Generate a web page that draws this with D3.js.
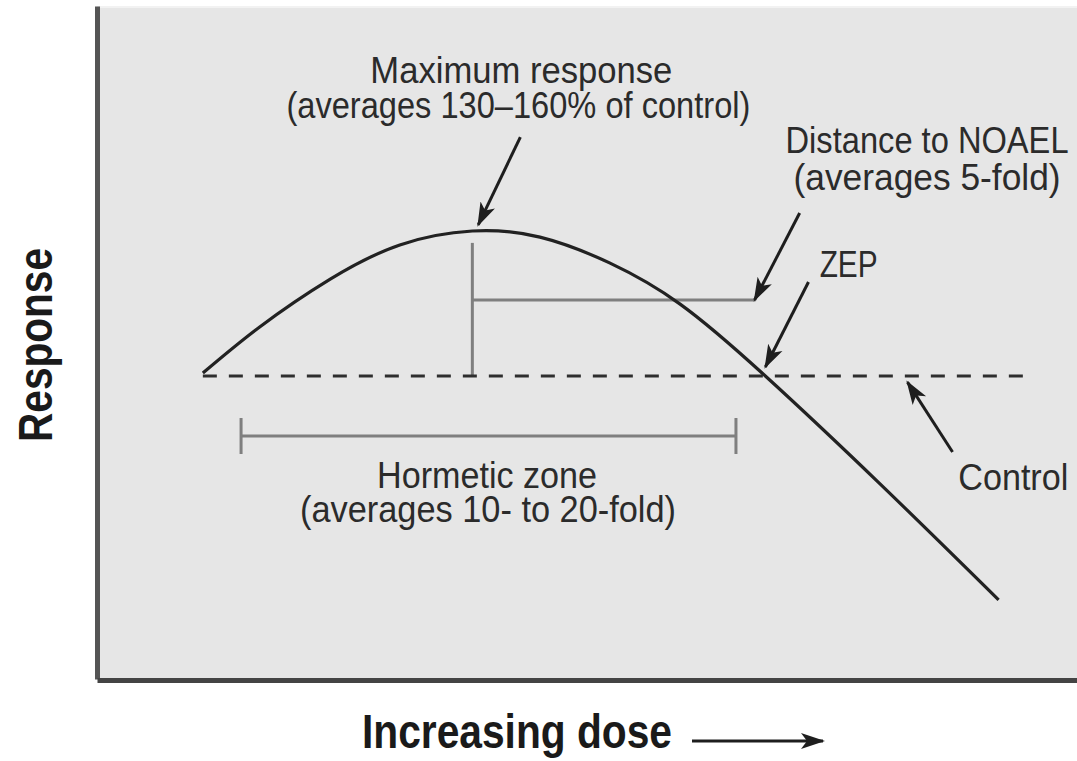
<!DOCTYPE html>
<html>
<head>
<meta charset="utf-8">
<script src="https://cdn.jsdelivr.net/npm/d3@7"></script>
<style>
  html, body { margin: 0; padding: 0; background: #fff; }
  svg { display: block; }
  text { font-family: "Liberation Sans Narrow", "Arial Narrow", "Liberation Sans", sans-serif; fill: #2b2b2b; }
</style>
</head>
<body>
<svg id="chart" width="1077" height="761"></svg>
<script>
// dose in arbitrary units, response in % of control
const doseDomain = [0, 100];
const responseDomain = [-4.5, 227.6];

const curveDose = [10.8, 16.6, 23.8, 30.9, 38.3, 45.2, 52.3, 59.5, 68.2, 79.9, 92.0];
const curveResponse = [101.0, 116.9, 133.4, 145.2, 150.0, 147.9, 139.0, 124.8, 100.0, 62.8, 22.8];

const controlResponse = 100;
const controlDoseSpan = [10.8, 95.2];
const peakDose = 38.3;
const peakMarkTop = 145.9;
const noaelDose = 67.2;
const noaelLevel = 126.2;
const hormeticSpan = [14.7, 65.2];
const hormeticLevel = 79.3;

const labelText = [
  "Maximum response",
  "(averages 130\u2013160% of control)",
  "Distance to NOAEL",
  "(averages 5-fold)",
  "ZEP",
  "Control",
  "Hormetic zone",
  "(averages 10- to 20-fold)"
];
const labelDose = [43.3, 43.0, 84.7, 84.7, 76.7, 93.5, 39.8, 39.9];
const labelResponse = [201.0, 189.0, 176.9, 164.1, 134.1, 60.7, 61.4, 49.7];

// arrows: [dose, response] of tail and of tip
const arrowFrom = [[43.2, 182.4], [71.7, 156.2], [72.6, 132.4], [87.3, 73.8]];
const arrowTo = [[38.9, 152.1], [67.1, 126.2], [68.2, 103.1], [82.7, 97.9]];

const xTitle = "Increasing dose";
const yTitle = "Response";

// layout
const plot = { left: 97, right: 1077, top: 6, bottom: 679 };
const labelWidths = [302, 464, 283, 267, 58, 110, 220, 376];

const svg = d3.select('#chart');

const x = d3.scaleLinear().domain(doseDomain).range([plot.left, plot.right]);
const y = d3.scaleLinear().domain(responseDomain).range([plot.bottom, plot.top]);

// arrowhead marker
svg.append('defs').append('marker')
  .attr('id', 'head')
  .attr('markerUnits', 'userSpaceOnUse')
  .attr('viewBox', '0 -9 24 18')
  .attr('refX', 22).attr('refY', 0)
  .attr('markerWidth', 24).attr('markerHeight', 18)
  .attr('orient', 'auto')
  .append('path')
  .attr('d', 'M0,-8 L24,0 L0,8 L6,0 Z')
  .attr('fill', '#1e1e1e');

// plot background
svg.append('rect')
  .attr('x', plot.left).attr('y', plot.top)
  .attr('width', plot.right - plot.left).attr('height', plot.bottom - plot.top)
  .attr('fill', '#e6e6e6');
svg.append('line')
  .attr('x1', plot.left).attr('x2', plot.right)
  .attr('y1', plot.top + 1).attr('y2', plot.top + 1)
  .attr('stroke', '#f2f2f2').attr('stroke-width', 2);

// hormetic zone bar
const hz = svg.append('g').attr('stroke', '#7f7f7f').attr('stroke-width', 3);
hz.append('line')
  .attr('x1', x(hormeticSpan[0])).attr('x2', x(hormeticSpan[1]))
  .attr('y1', y(hormeticLevel)).attr('y2', y(hormeticLevel));
hormeticSpan.forEach(d => {
  hz.append('line')
    .attr('x1', x(d)).attr('x2', x(d))
    .attr('y1', y(hormeticLevel) - 18).attr('y2', y(hormeticLevel) + 18);
});

// peak marker + distance to NOAEL
svg.append('line')
  .attr('x1', x(peakDose)).attr('x2', x(peakDose))
  .attr('y1', y(controlResponse)).attr('y2', y(peakMarkTop))
  .attr('stroke', '#7f7f7f').attr('stroke-width', 3);
svg.append('line')
  .attr('x1', x(peakDose)).attr('x2', x(noaelDose))
  .attr('y1', y(noaelLevel)).attr('y2', y(noaelLevel))
  .attr('stroke', '#7f7f7f').attr('stroke-width', 3);

// control line
svg.append('line')
  .attr('x1', x(controlDoseSpan[0])).attr('x2', x(controlDoseSpan[1]))
  .attr('y1', y(controlResponse)).attr('y2', y(controlResponse))
  .attr('stroke', '#2e2e2e').attr('stroke-width', 3)
  .attr('stroke-dasharray', '14,12');

// dose-response curve
const pts = curveDose.map((d, i) => [d, curveResponse[i]]);
svg.append('path')
  .datum(pts)
  .attr('fill', 'none')
  .attr('stroke', '#222')
  .attr('stroke-width', 3.2)
  .attr('d', d3.line().x(d => x(d[0])).y(d => y(d[1])).curve(d3.curveNatural));

// annotation arrows
svg.append('g').selectAll('line')
  .data(arrowFrom)
  .enter().append('line')
  .attr('x1', d => x(d[0])).attr('y1', d => y(d[1]))
  .attr('x2', (d, i) => x(arrowTo[i][0])).attr('y2', (d, i) => y(arrowTo[i][1]))
  .attr('stroke', '#1e1e1e').attr('stroke-width', 3)
  .attr('marker-end', 'url(#head)');

// annotation labels
svg.append('g').selectAll('text')
  .data(labelText)
  .enter().append('text')
  .attr('x', (d, i) => x(labelDose[i]))
  .attr('y', (d, i) => y(labelResponse[i]))
  .attr('text-anchor', 'middle')
  .attr('font-size', 36)
  .attr('textLength', (d, i) => labelWidths[i])
  .attr('lengthAdjust', 'spacingAndGlyphs')
  .text(d => d);

// axes (no ticks, just the lines)
svg.append('g')
  .attr('transform', 'translate(' + plot.left + ',0)')
  .call(d3.axisLeft(y).ticks(0).tickSizeOuter(0))
  .call(g => g.select('.domain').attr('stroke', '#555').attr('stroke-width', 5));
svg.append('g')
  .attr('transform', 'translate(0,' + (plot.bottom + 1) + ')')
  .call(d3.axisBottom(x).ticks(0).tickSizeOuter(0))
  .call(g => g.select('.domain').attr('stroke', '#444').attr('stroke-width', 5));

// axis titles
svg.append('text')
  .attr('x', 517).attr('y', 748)
  .attr('text-anchor', 'middle')
  .attr('font-size', 48).attr('font-weight', 'bold')
  .attr('textLength', 310).attr('lengthAdjust', 'spacingAndGlyphs')
  .style('fill', '#1a1a1a')
  .text(xTitle);
svg.append('line')
  .attr('x1', 692).attr('x2', 823)
  .attr('y1', 741).attr('y2', 741)
  .attr('stroke', '#1e1e1e').attr('stroke-width', 3)
  .attr('marker-end', 'url(#head)');

svg.append('text')
  .attr('transform', 'translate(52,345) rotate(-90)')
  .attr('text-anchor', 'middle')
  .attr('font-size', 48).attr('font-weight', 'bold')
  .attr('textLength', 194).attr('lengthAdjust', 'spacingAndGlyphs')
  .style('fill', '#1a1a1a')
  .text(yTitle);
</script>
</body>
</html>
